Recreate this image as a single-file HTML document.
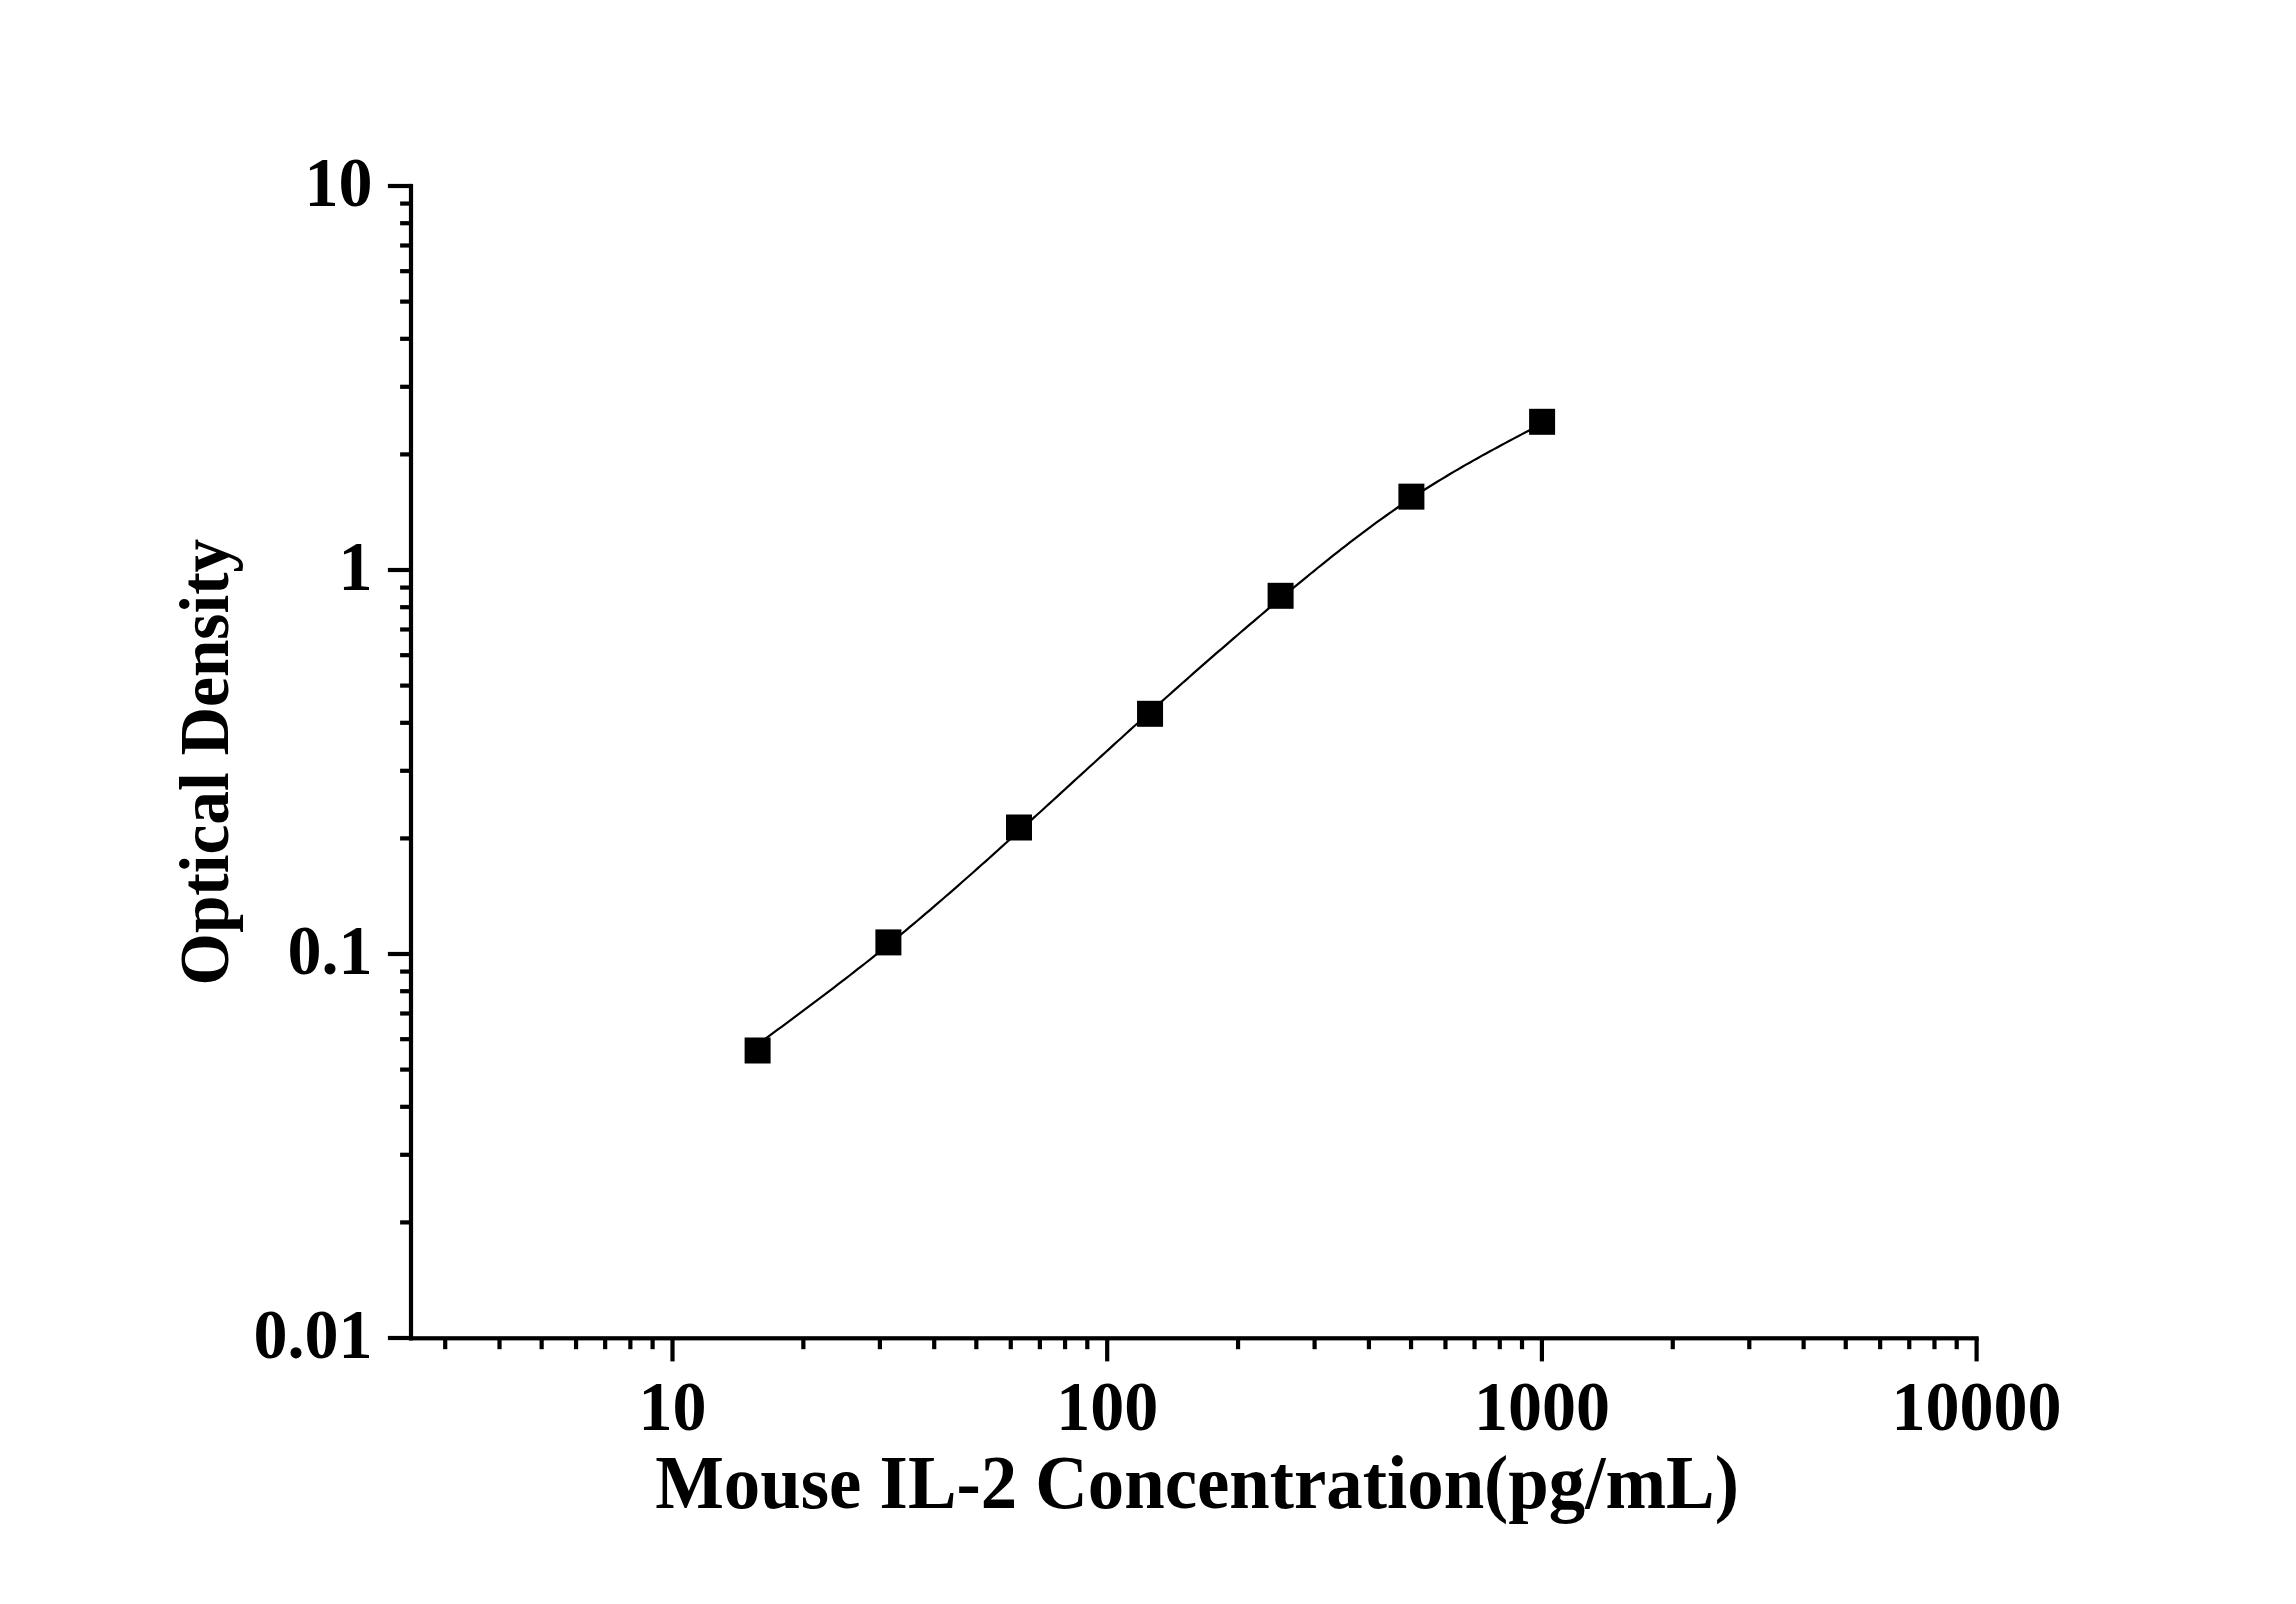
<!DOCTYPE html>
<html lang="en">
<head>
<meta charset="utf-8">
<title>Mouse IL-2 standard curve</title>
<style>
html,body{margin:0;padding:0;background:#ffffff;}
body{width:2296px;height:1604px;overflow:hidden;font-family:"Liberation Serif",serif;}
svg{display:block;position:absolute;left:0;top:0;}
</style>
</head>
<body>
<svg width="2296" height="1604" viewBox="0 0 2296 1604" shape-rendering="auto">
<rect x="0" y="0" width="2296" height="1604" fill="#ffffff"/>
<g fill="#000000"><rect x="408.90" y="183.90" width="4.20" height="1156.50"/><rect x="408.90" y="1336.20" width="1569.80" height="4.20"/><rect x="387.90" y="183.90" width="23.10" height="4.20"/><rect x="400.10" y="452.30" width="10.90" height="4.20"/><rect x="400.10" y="384.69" width="10.90" height="4.20"/><rect x="400.10" y="336.71" width="10.90" height="4.20"/><rect x="400.10" y="299.50" width="10.90" height="4.20"/><rect x="400.10" y="269.09" width="10.90" height="4.20"/><rect x="400.10" y="243.38" width="10.90" height="4.20"/><rect x="400.10" y="221.11" width="10.90" height="4.20"/><rect x="400.10" y="201.47" width="10.90" height="4.20"/><rect x="387.90" y="567.90" width="23.10" height="4.20"/><rect x="400.10" y="836.30" width="10.90" height="4.20"/><rect x="400.10" y="768.69" width="10.90" height="4.20"/><rect x="400.10" y="720.71" width="10.90" height="4.20"/><rect x="400.10" y="683.50" width="10.90" height="4.20"/><rect x="400.10" y="653.09" width="10.90" height="4.20"/><rect x="400.10" y="627.38" width="10.90" height="4.20"/><rect x="400.10" y="605.11" width="10.90" height="4.20"/><rect x="400.10" y="585.47" width="10.90" height="4.20"/><rect x="387.90" y="951.90" width="23.10" height="4.20"/><rect x="400.10" y="1220.30" width="10.90" height="4.20"/><rect x="400.10" y="1152.69" width="10.90" height="4.20"/><rect x="400.10" y="1104.71" width="10.90" height="4.20"/><rect x="400.10" y="1067.50" width="10.90" height="4.20"/><rect x="400.10" y="1037.09" width="10.90" height="4.20"/><rect x="400.10" y="1011.38" width="10.90" height="4.20"/><rect x="400.10" y="989.11" width="10.90" height="4.20"/><rect x="400.10" y="969.47" width="10.90" height="4.20"/><rect x="387.90" y="1335.90" width="23.10" height="4.20"/><rect x="670.40" y="1338.30" width="4.20" height="23.10"/><rect x="1105.10" y="1338.30" width="4.20" height="23.10"/><rect x="1539.80" y="1338.30" width="4.20" height="23.10"/><rect x="1974.50" y="1338.30" width="4.20" height="23.10"/><rect x="443.10" y="1338.30" width="4.20" height="10.90"/><rect x="497.42" y="1338.30" width="4.20" height="10.90"/><rect x="539.54" y="1338.30" width="4.20" height="10.90"/><rect x="573.96" y="1338.30" width="4.20" height="10.90"/><rect x="603.06" y="1338.30" width="4.20" height="10.90"/><rect x="628.27" y="1338.30" width="4.20" height="10.90"/><rect x="650.51" y="1338.30" width="4.20" height="10.90"/><rect x="801.26" y="1338.30" width="4.20" height="10.90"/><rect x="877.80" y="1338.30" width="4.20" height="10.90"/><rect x="932.12" y="1338.30" width="4.20" height="10.90"/><rect x="974.24" y="1338.30" width="4.20" height="10.90"/><rect x="1008.66" y="1338.30" width="4.20" height="10.90"/><rect x="1037.76" y="1338.30" width="4.20" height="10.90"/><rect x="1062.97" y="1338.30" width="4.20" height="10.90"/><rect x="1085.21" y="1338.30" width="4.20" height="10.90"/><rect x="1235.96" y="1338.30" width="4.20" height="10.90"/><rect x="1312.50" y="1338.30" width="4.20" height="10.90"/><rect x="1366.82" y="1338.30" width="4.20" height="10.90"/><rect x="1408.94" y="1338.30" width="4.20" height="10.90"/><rect x="1443.36" y="1338.30" width="4.20" height="10.90"/><rect x="1472.46" y="1338.30" width="4.20" height="10.90"/><rect x="1497.67" y="1338.30" width="4.20" height="10.90"/><rect x="1519.91" y="1338.30" width="4.20" height="10.90"/><rect x="1670.66" y="1338.30" width="4.20" height="10.90"/><rect x="1747.20" y="1338.30" width="4.20" height="10.90"/><rect x="1801.52" y="1338.30" width="4.20" height="10.90"/><rect x="1843.64" y="1338.30" width="4.20" height="10.90"/><rect x="1878.06" y="1338.30" width="4.20" height="10.90"/><rect x="1907.16" y="1338.30" width="4.20" height="10.90"/><rect x="1932.37" y="1338.30" width="4.20" height="10.90"/><rect x="1954.61" y="1338.30" width="4.20" height="10.90"/></g>
<polyline points="757.6,1044.5 761.6,1041.5 765.6,1038.6 769.6,1035.6 773.6,1032.7 777.6,1029.7 781.6,1026.8 785.6,1023.8 789.6,1020.8 793.6,1017.9 797.6,1014.9 801.6,1011.9 805.6,1008.9 809.6,1005.9 813.6,1002.9 817.6,999.9 821.6,996.9 825.6,993.9 829.6,990.8 833.6,987.8 837.6,984.7 841.6,981.6 845.6,978.6 849.6,975.5 853.6,972.4 857.6,969.2 861.6,966.1 865.6,963.0 869.6,959.8 873.6,956.6 877.6,953.4 881.6,950.2 885.6,947.0 889.6,943.7 893.6,940.5 897.6,937.2 901.6,933.9 905.6,930.6 909.6,927.2 913.6,923.9 917.6,920.5 921.6,917.1 925.6,913.7 929.6,910.3 933.6,906.9 937.6,903.4 941.6,900.0 945.6,896.5 949.6,893.1 953.6,889.6 957.6,886.1 961.6,882.5 965.6,879.0 969.6,875.5 973.6,872.0 977.6,868.4 981.6,864.8 985.6,861.3 989.6,857.7 993.6,854.1 997.6,850.5 1001.6,846.9 1005.6,843.3 1009.6,839.7 1013.6,836.1 1017.6,832.5 1021.6,828.8 1025.6,825.2 1029.6,821.6 1033.6,817.9 1037.6,814.3 1041.6,810.7 1045.6,807.0 1049.6,803.4 1053.6,799.7 1057.6,796.1 1061.6,792.4 1065.6,788.7 1069.6,785.1 1073.6,781.4 1077.6,777.8 1081.6,774.1 1085.6,770.5 1089.6,766.8 1093.6,763.2 1097.6,759.5 1101.6,755.9 1105.6,752.2 1109.6,748.6 1113.6,744.9 1117.6,741.3 1121.6,737.7 1125.6,734.0 1129.6,730.4 1133.6,726.8 1137.6,723.2 1141.6,719.6 1145.6,716.0 1149.6,712.4 1153.6,708.8 1157.6,705.2 1161.6,701.6 1165.6,698.0 1169.6,694.5 1173.6,690.9 1177.6,687.4 1181.6,683.8 1185.6,680.3 1189.6,676.7 1193.6,673.2 1197.6,669.7 1201.6,666.2 1205.6,662.7 1209.6,659.2 1213.6,655.7 1217.6,652.2 1221.6,648.8 1225.6,645.3 1229.6,641.9 1233.6,638.4 1237.6,635.0 1241.6,631.5 1245.6,628.1 1249.6,624.7 1253.6,621.3 1257.6,617.9 1261.6,614.5 1265.6,611.1 1269.6,607.7 1273.6,604.4 1277.6,601.0 1281.6,597.7 1285.6,594.3 1289.6,591.0 1293.6,587.7 1297.6,584.4 1301.6,581.1 1305.6,577.8 1309.6,574.5 1313.6,571.3 1317.6,568.0 1321.6,564.8 1325.6,561.6 1329.6,558.4 1333.6,555.2 1337.6,552.1 1341.6,548.9 1345.6,545.8 1349.6,542.7 1353.6,539.7 1357.6,536.6 1361.6,533.6 1365.6,530.6 1369.6,527.6 1373.6,524.7 1377.6,521.7 1381.6,518.8 1385.6,516.0 1389.6,513.1 1393.6,510.3 1397.6,507.5 1401.6,504.8 1405.6,502.1 1409.6,499.4 1413.6,496.7 1417.6,494.1 1421.6,491.5 1425.6,489.0 1429.6,486.5 1433.6,484.0 1437.6,481.5 1441.6,479.1 1445.6,476.7 1449.6,474.3 1453.6,471.9 1457.6,469.6 1461.6,467.2 1465.6,464.9 1469.6,462.7 1473.6,460.4 1477.6,458.2 1481.6,455.9 1485.6,453.7 1489.6,451.5 1493.6,449.4 1497.6,447.2 1501.6,445.0 1505.6,442.9 1509.6,440.7 1513.6,438.6 1517.6,436.5 1521.6,434.4 1525.6,432.3 1529.6,430.2 1533.6,428.1 1537.6,426.0 1541.6,423.9 1542.1,423.6" fill="none" stroke="#000000" stroke-width="2.2" stroke-linejoin="round"/>
<g fill="#000000"><rect x="744.60" y="1037.50" width="26.0" height="26.0"/><rect x="875.40" y="929.40" width="26.0" height="26.0"/><rect x="1006.00" y="814.50" width="26.0" height="26.0"/><rect x="1137.05" y="700.80" width="26.0" height="26.0"/><rect x="1267.60" y="582.80" width="26.0" height="26.0"/><rect x="1398.40" y="483.65" width="26.0" height="26.0"/><rect x="1529.10" y="408.80" width="26.0" height="26.0"/></g>
<g font-family="'Liberation Serif', serif" font-weight="bold" fill="#000000"><text transform="translate(372.60,205.50) scale(1.02,1.045)" font-size="66.67" text-anchor="end">10</text><text transform="translate(372.60,589.50) scale(1.02,1.045)" font-size="66.67" text-anchor="end">1</text><text transform="translate(372.60,973.50) scale(1.02,1.045)" font-size="66.67" text-anchor="end">0.1</text><text transform="translate(372.60,1357.50) scale(1.02,1.045)" font-size="66.67" text-anchor="end">0.01</text><text transform="translate(672.50,1429.50) scale(1.02,1.045)" font-size="66.67" text-anchor="middle">10</text><text transform="translate(1107.20,1429.50) scale(1.02,1.045)" font-size="66.67" text-anchor="middle">100</text><text transform="translate(1541.90,1429.50) scale(1.02,1.045)" font-size="66.67" text-anchor="middle">1000</text><text transform="translate(1976.60,1429.50) scale(1.02,1.045)" font-size="66.67" text-anchor="middle">10000</text><text transform="translate(1197.00,1508.00) scale(1,1.035)" font-size="72.8" text-anchor="middle">Mouse IL-2 Concentration(pg/mL)</text><text transform="translate(228.00,762.10) rotate(-90) scale(1,1.04)" font-size="67.3" text-anchor="middle">Optical Density</text></g>
</svg>
</body>
</html>
